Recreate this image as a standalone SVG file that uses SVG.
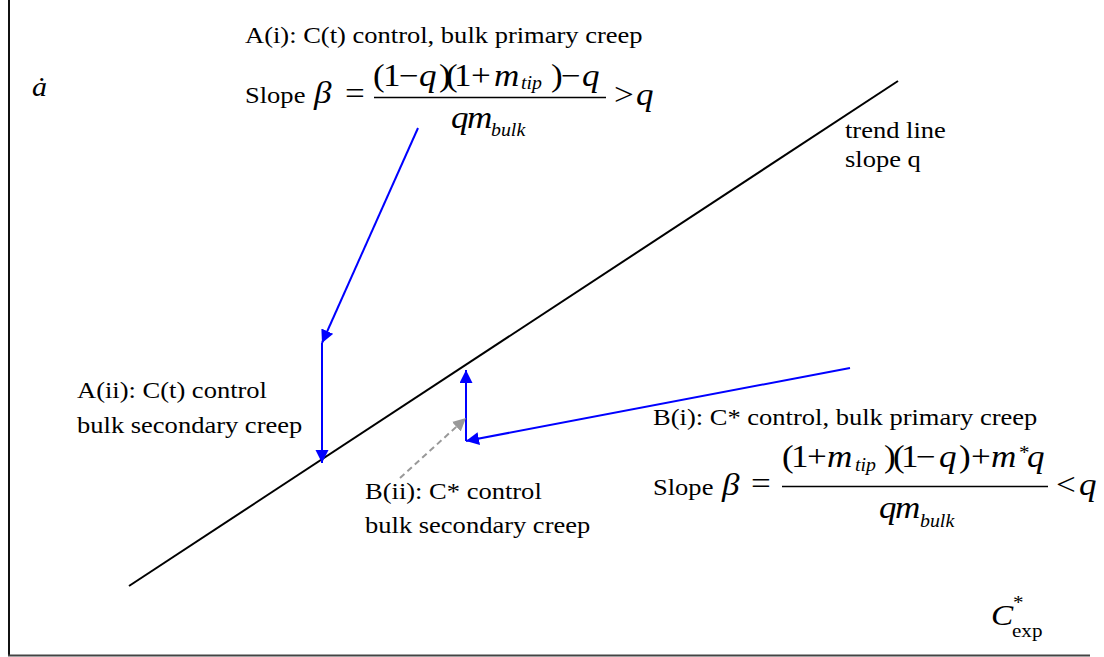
<svg xmlns="http://www.w3.org/2000/svg" width="1104" height="657" viewBox="0 0 1104 657" font-family="Liberation Serif">
<style>
.t{font-size:23.9px;fill:#000}
.mi{font-style:italic;font-size:31.6px;fill:#000}
.mr{font-size:31.6px;fill:#000}
.sb{font-style:italic;font-size:17.9px;fill:#000}
.sr{font-size:19px;fill:#000}
.blue{stroke:#0000ff;stroke-width:2;fill:none}
.gray{stroke:#999;stroke-width:2;fill:none;stroke-dasharray:6 4}
.frac{stroke:#000;stroke-width:1.5}
</style>
<defs>
<marker id="ab" markerUnits="userSpaceOnUse" markerWidth="14" markerHeight="14" refX="13" refY="6.5" orient="auto"><path d="M0,0 L13,6.5 L0,13 z" fill="#0000ff"/></marker>
<marker id="ag" markerUnits="userSpaceOnUse" markerWidth="14" markerHeight="14" refX="13" refY="6.5" orient="auto"><path d="M0,0 L13,6.5 L0,13 z" fill="#999"/></marker>
</defs>
<rect width="1104" height="657" fill="#fff"/>
<g id="axes" font-family="Liberation Serif">
<line x1="9" y1="0" x2="9" y2="656" stroke="#111" stroke-width="2"/>
<line x1="8" y1="655.5" x2="1090" y2="655.5" stroke="#444" stroke-width="2"/>
<text class="mi" transform="matrix(1.11 0 0 1 32 96)" style="font-size:27px">ȧ</text>
<g id="xlabel">
<text class="mi" transform="matrix(1.11 0 0 1 991 625)" style="font-size:30px">C</text>
<text class="sr" transform="matrix(1.11 0 0 1 1013 609)">*</text>
<text class="sr" transform="matrix(1.11 0 0 1 1012 637)">exp</text>
</g>
</g>
<g id="trendline" font-family="Liberation Serif">
<line x1="129" y1="586" x2="898" y2="81" stroke="#000" stroke-width="2"/>
<text class="t" transform="matrix(1.11 0 0 1 845 138)">trend line</text>
<text class="t" transform="matrix(1.11 0 0 1 845 167)">slope q</text>
</g>
<g id="connectors">
<line class="blue" x1="418" y1="128" x2="322" y2="343" marker-end="url(#ab)"/>
<line class="blue" x1="322" y1="343" x2="322" y2="463" marker-end="url(#ab)"/>
<line class="blue" x1="850" y1="368" x2="466" y2="441" marker-end="url(#ab)"/>
<line class="blue" x1="466" y1="441" x2="466" y2="370" marker-end="url(#ab)"/>
<line class="gray" x1="400" y1="478" x2="466" y2="418" marker-end="url(#ag)"/>
</g>
<g id="nodeAi" font-family="Liberation Serif">
<text class="t" transform="matrix(1.11 0 0 1 245 43)">A(i): C(t) control, bulk primary creep</text>
<text class="t" transform="matrix(1.11 0 0 1 245 103)">Slope</text>
<text class="mi" transform="matrix(1.11 0 0 1 314 103)">β</text>
<text class="mr" transform="matrix(1.11 0 0 1 345 104)">=</text>
<text class="mr" transform="matrix(1.11 0 0 1 373 86)">(</text>
<text class="mr" transform="matrix(1.11 0 0 1 383 86)">1</text>
<text class="mr" transform="matrix(1.11 0 0 1 399 86)">−</text>
<text class="mi" transform="matrix(1.11 0 0 1 419 86)">q</text>
<text class="mr" transform="matrix(1.11 0 0 1 439 86)">)</text>
<text class="mr" transform="matrix(1.11 0 0 1 446 86)">(</text>
<text class="mr" transform="matrix(1.11 0 0 1 454 86)">1</text>
<text class="mr" transform="matrix(1.11 0 0 1 471 86)">+</text>
<text class="mi" transform="matrix(1.11 0 0 1 494 86)">m</text>
<text class="sb" transform="matrix(1.11 0 0 1 521 89)">tip</text>
<text class="mr" transform="matrix(1.11 0 0 1 551 86)">)</text>
<text class="mr" transform="matrix(1.11 0 0 1 561 86)">−</text>
<text class="mi" transform="matrix(1.11 0 0 1 582 86)">q</text>
<line class="frac" x1="374" y1="97.5" x2="606" y2="97.5"/>
<text class="mi" transform="matrix(1.11 0 0 1 451 128)">q</text>
<text class="mi" transform="matrix(1.11 0 0 1 467 128)">m</text>
<text class="sb" transform="matrix(1.11 0 0 1 491 136)">bulk</text>
<text class="mr" transform="matrix(1.11 0 0 1 614 105)">&gt;</text>
<text class="mi" transform="matrix(1.11 0 0 1 636 105)">q</text>
</g>
<g id="nodeAii" font-family="Liberation Serif">
<text class="t" transform="matrix(1.11 0 0 1 77 398)">A(ii): C(t) control</text>
<text class="t" transform="matrix(1.11 0 0 1 77 433)">bulk secondary creep</text>
</g>
<g id="nodeBii" font-family="Liberation Serif">
<text class="t" transform="matrix(1.11 0 0 1 365 499)">B(ii): C* control</text>
<text class="t" transform="matrix(1.11 0 0 1 365 533)">bulk secondary creep</text>
</g>
<g id="nodeBi" font-family="Liberation Serif">
<text class="t" transform="matrix(1.11 0 0 1 653 425)">B(i): C* control, bulk primary creep</text>
<text class="t" transform="matrix(1.11 0 0 1 653 495)">Slope</text>
<text class="mi" transform="matrix(1.11 0 0 1 722 495)">β</text>
<text class="mr" transform="matrix(1.11 0 0 1 751 494)">=</text>
<text class="mr" transform="matrix(1.11 0 0 1 782 467)">(</text>
<text class="mr" transform="matrix(1.11 0 0 1 791 467)">1</text>
<text class="mr" transform="matrix(1.11 0 0 1 807 467)">+</text>
<text class="mi" transform="matrix(1.11 0 0 1 827 467)">m</text>
<text class="sb" transform="matrix(1.11 0 0 1 855 471)">tip</text>
<text class="mr" transform="matrix(1.11 0 0 1 884 467)">)</text>
<text class="mr" transform="matrix(1.11 0 0 1 893 467)">(</text>
<text class="mr" transform="matrix(1.11 0 0 1 901 467)">1</text>
<text class="mr" transform="matrix(1.11 0 0 1 916 467)">−</text>
<text class="mi" transform="matrix(1.11 0 0 1 939 467)">q</text>
<text class="mr" transform="matrix(1.11 0 0 1 959 467)">)</text>
<text class="mr" transform="matrix(1.11 0 0 1 971 467)">+</text>
<text class="mi" transform="matrix(1.11 0 0 1 991 467)">m</text>
<text class="sr" transform="matrix(1.11 0 0 1 1019 459)">*</text>
<text class="mi" transform="matrix(1.11 0 0 1 1027 467)">q</text>
<line class="frac" x1="782" y1="486.5" x2="1048" y2="486.5"/>
<text class="mi" transform="matrix(1.11 0 0 1 879 518)">q</text>
<text class="mi" transform="matrix(1.11 0 0 1 895 518)">m</text>
<text class="sb" transform="matrix(1.11 0 0 1 920 527)">bulk</text>
<text class="mr" transform="matrix(1.11 0 0 1 1056 495)">&lt;</text>
<text class="mi" transform="matrix(1.11 0 0 1 1079 495)">q</text>
</g>
</svg>
